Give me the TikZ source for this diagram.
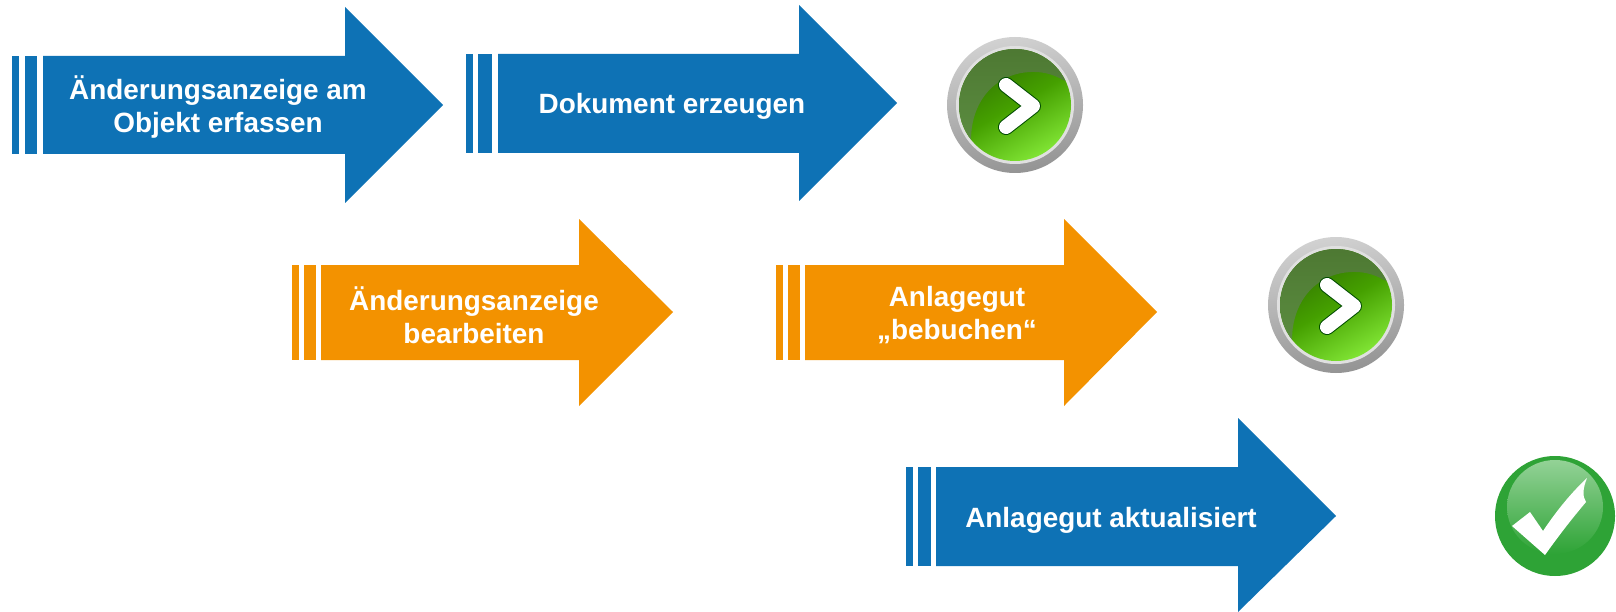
\documentclass[tikz,border=0pt]{standalone}
\usepackage{fontspec}
\setmainfont{Liberation Sans}
\definecolor{blueArrow}{HTML}{0E72B5}
\definecolor{orangeArrow}{HTML}{F39200}
\definecolor{discDark}{HTML}{2F7000}
\definecolor{discMid}{HTML}{45A000}
\definecolor{discLight}{HTML}{80E434}
\definecolor{glossTop}{HTML}{4D7832}
\definecolor{glossLow}{HTML}{5B8C40}
\definecolor{doneEdge}{HTML}{2EA336}
\definecolor{doneGloss}{HTML}{93D296}
\begin{document}
\begin{tikzpicture}[x=1bp,y=-1bp,line join=miter,
    label/.style={text=white,font=\fontsize{28}{33}\selectfont\bfseries,align=center,inner sep=0pt},
    ring/.style={top color=black!18,bottom color=black!42,shading angle=10},
    rim/.style={fill=black!12},
    disc/.style={top color=discDark,bottom color=discLight,middle color=discMid,shading angle=30},
    gloss/.style={top color=glossTop,bottom color=glossLow},
    chevron/.style={line width=14bp,line cap=round,line join=round,draw=white}]
  \useasboundingbox (0,0) rectangle (1616,612);
  % Node: capture
  \fill [blueArrow] (12,56) rectangle (19,154);
  \fill [blueArrow] (25,56) rectangle (37,154);
  \fill [blueArrow] (43,56) -- (345,56) -- (345,7) -- (443,105) -- (345,203) -- (345,154) -- (43,154) -- cycle;
  \node [label] (capture) at (218,107) {Änderungsanzeige am\\Objekt erfassen};
  % Node: document
  \fill [blueArrow] (466,54) rectangle (473,153);
  \fill [blueArrow] (478,54) rectangle (492,153);
  \fill [blueArrow] (498,54) -- (799,54) -- (799,5) -- (897,103) -- (799,201) -- (799,153) -- (498,153) -- cycle;
  \node [label] (document) at (672,106) {Dokument erzeugen};
  % Node: edit
  \fill [orangeArrow] (292,265) rectangle (299,360);
  \fill [orangeArrow] (304,265) rectangle (316,360);
  \fill [orangeArrow] (321,265) -- (579,265) -- (579,219) -- (673,312) -- (579,406) -- (579,360) -- (321,360) -- cycle;
  \node [label] (edit) at (474,315) {Änderungsanzeige\\bearbeiten};
  % Node: post
  \fill [orangeArrow] (776,265) rectangle (783,360);
  \fill [orangeArrow] (788,265) rectangle (800,360);
  \fill [orangeArrow] (805,265) -- (1064,265) -- (1064,219) -- (1157,312) -- (1064,406) -- (1064,360) -- (805,360) -- cycle;
  \node [label] (post) at (957,315) {Anlagegut\\„bebuchen“};
  % Node: updated
  \fill [blueArrow] (906,467) rectangle (913,566);
  \fill [blueArrow] (918,467) rectangle (931,566);
  \fill [blueArrow] (936,467) -- (1238,467) -- (1238,418) -- (1336,516) -- (1238,612) -- (1238,566) -- (936,566) -- cycle;
  \node [label] (updated) at (1111,520) {Anlagegut aktualisiert};
  % Node: go1
\begin{scope}[shift={(1015,105)}]
  \shade [ring] (0,0) circle (68);
  \fill [rim] (0,0) circle (59);
  \shade [disc] (0,0) circle (56);
  \begin{scope}
    \clip (0,0) circle (56);
    \shade [gloss] (-60,-60) -- (60,-60) -- (60,-18) .. controls (48,-26) and (35,-33) .. (20,-33) .. controls (-18,-34) and (-44,-5) .. (-44,35) -- (-60,35) -- cycle;
  \end{scope}
  \draw [chevron,draw=black!70!green,line width=16bp] (-9,-20) -- (18,1) -- (-9,22);
  \draw [chevron] (-9,-20) -- (18,1) -- (-9,22);
\end{scope}
  % Node: go2
\begin{scope}[shift={(1336,305)}]
  \shade [ring] (0,0) circle (68);
  \fill [rim] (0,0) circle (59);
  \shade [disc] (0,0) circle (56);
  \begin{scope}
    \clip (0,0) circle (56);
    \shade [gloss] (-60,-60) -- (60,-60) -- (60,-18) .. controls (48,-26) and (35,-33) .. (20,-33) .. controls (-18,-34) and (-44,-5) .. (-44,35) -- (-60,35) -- cycle;
  \end{scope}
  \draw [chevron,draw=black!70!green,line width=16bp] (-9,-20) -- (18,1) -- (-9,22);
  \draw [chevron] (-9,-20) -- (18,1) -- (-9,22);
\end{scope}
  % Node: done
\begin{scope}[shift={(1555,516)}]
  \fill [doneEdge] (0,0) circle (60);
  \shade [top color=doneGloss,bottom color=doneEdge] (0,-9) ellipse (48 and 47);
  \fill [white] (-43,10) -- (-25,-4) -- (-12,15) .. controls (2,-6) and (17,-24) .. (32,-38) .. controls (28,-28) and (27,-20) .. (31,-14) .. controls (15,5) and (2,22) .. (-10,39) -- cycle;
\end{scope}
%
\end{tikzpicture}
\end{document}
